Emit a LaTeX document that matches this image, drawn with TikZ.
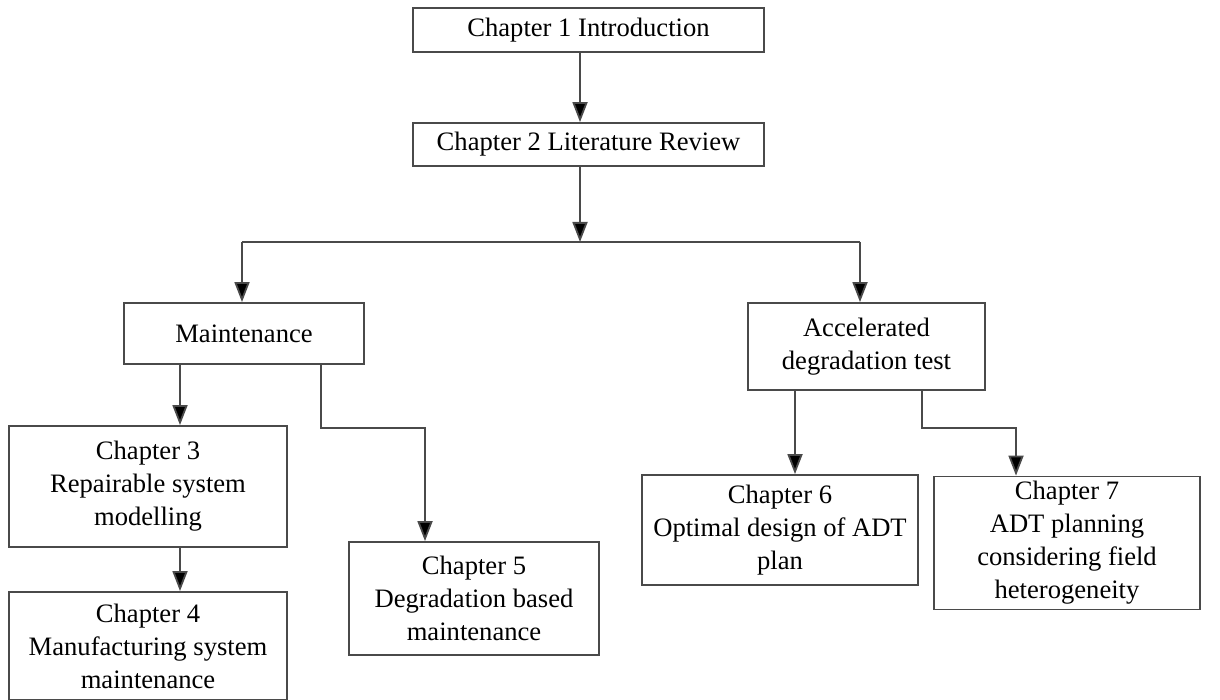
\documentclass[tikz,border=0pt]{standalone}
\usepackage{fontspec}
\setmainfont{Liberation Serif}
\usepackage{tikz}
\usetikzlibrary{arrows.meta,positioning,calc}
\definecolor{edgegray}{HTML}{4A4A4A}
\tikzset{
  chapbox/.style={
    rectangle, draw=edgegray, line width=0.9pt, fill=white,
    font=\fontsize{13.3}{16.5}\selectfont, align=center,
    inner sep=2pt
  },
  flowarrow/.style={
    -{Triangle[length=10pt, width=7.5pt, fill=black]}, line width=0.9pt, draw=edgegray
  },
  flowline/.style={
    line width=0.9pt, draw=edgegray
  },
}
\begin{document}
\begin{tikzpicture}[x=0.5pt, y=-0.5pt]
  \useasboundingbox (0,0) rectangle (1220,700);

  % chapter boxes
  \node[chapbox, minimum width=175.5pt, minimum height=22pt] (ch1) at (588.5,30)
    {Chapter 1 Introduction};
  \node[chapbox, minimum width=175.5pt, minimum height=21.5pt] (ch2) at (588.5,144.5)
    {Chapter 2 Literature Review};
  \node[chapbox, minimum width=120pt, minimum height=30.5pt] (maint) at (244,333.5)
    {Maintenance};
  \node[chapbox, minimum width=118.5pt, minimum height=43.5pt] (adt) at (866.5,346.5)
    {Accelerated\\degradation test};
  \node[chapbox, minimum width=139pt, minimum height=60.5pt] (ch3) at (148,486.5)
    {Chapter 3\\Repairable system\\modelling};
  \node[chapbox, minimum width=139pt, minimum height=54pt] (ch4) at (148,646)
    {Chapter 4\\Manufacturing system\\maintenance};
  \node[chapbox, minimum width=125pt, minimum height=56.5pt] (ch5) at (474,598.5)
    {Chapter 5\\Degradation based\\maintenance};
  \node[chapbox, minimum width=138pt, minimum height=55pt] (ch6) at (780,530)
    {Chapter 6\\Optimal design of ADT\\plan};
  \node[chapbox, minimum width=133pt, minimum height=66.5pt] (ch7) at (1067,543)
    {Chapter 7\\ADT planning\\considering field\\heterogeneity};

  % junction points
  \coordinate (split) at (580,242);
  \coordinate (lj) at (242,242);
  \coordinate (rj) at (860,242);
  \coordinate (m3) at (180,364);
  \coordinate (m5) at (321,428);
  \coordinate (c5) at (425,428);
  \coordinate (a6) at (795,428);
  \coordinate (a7) at (922,428);
  \coordinate (c7) at (1016,428);

  \draw[flowarrow] (ch1.south -| split) -- (ch2.north -| split);
  \draw[flowarrow] (ch2.south -| split) -- (split);
  \draw[flowline] (lj) -- (rj);
  \draw[flowarrow] (lj) -- (lj |- maint.north);
  \draw[flowarrow] (rj) -- (rj |- adt.north);

  \draw[flowarrow] (m3) -- (m3 |- ch3.north);
  \draw[flowarrow] (ch3.south -| m3) -- (ch4.north -| m3);
  \draw[flowarrow] (maint.south -| m5) -- (m5) -- (c5) -- (c5 |- ch5.north);

  \draw[flowarrow] (adt.south -| a6) -- (a6 |- ch6.north);
  \draw[flowarrow] (adt.south -| a7) -- (a7) -- (c7) -- (c7 |- ch7.north);
\end{tikzpicture}
\end{document}
